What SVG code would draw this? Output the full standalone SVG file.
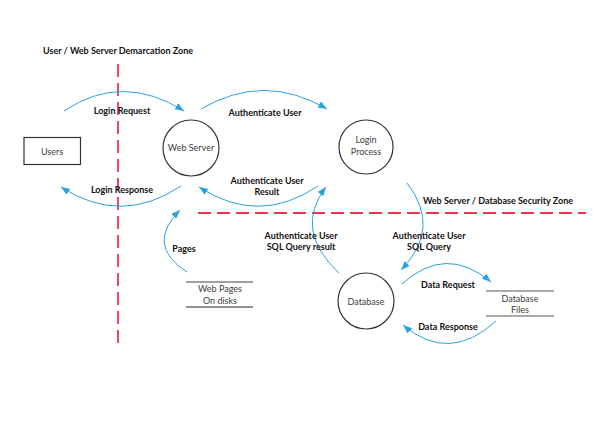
<svg xmlns="http://www.w3.org/2000/svg" width="595" height="426" viewBox="0 0 595 426">
<defs>
<marker id="ah" markerUnits="userSpaceOnUse" markerWidth="10" markerHeight="8" refX="9" refY="3.5" orient="auto">
<path d="M0,0 L9,3.5 L0,7 z" fill="#29a3e0"/>
</marker>
<style>
.lbl{font-family:Lato,"Liberation Sans",Arial,sans-serif;font-size:9px;font-weight:bold;fill:#111;text-anchor:middle}
.node{font-family:Lato,"Liberation Sans",Arial,sans-serif;font-size:9px;fill:#404040;text-anchor:middle}
.shape{fill:#fff;stroke:#333;stroke-width:1.2}
.flow{fill:none;stroke:#29a3e0;stroke-width:1;marker-end:url(#ah)}
.zone{stroke:#f0334f;stroke-width:1.8;stroke-dasharray:13 6;fill:none}
</style>
</defs>
<rect width="595" height="426" fill="#fff"/>
<g id="zones">
<line class="zone" x1="118" y1="64" x2="118" y2="343"/>
<line class="zone" x1="198" y1="213" x2="586" y2="213"/>
<text class="lbl" x="118" y="54">User / Web Server Demarcation Zone</text>
<text class="lbl" x="498" y="204">Web Server / Database Security Zone</text>
</g>
<g id="connectors">
<path class="flow" d="M64,111 Q122,72 184,111"/>
<path class="flow" d="M201,109 Q264,72 327,109"/>
<path class="flow" d="M318,186 Q259,226 199,187"/>
<path class="flow" d="M181,186 Q121,226 61,187"/>
<path class="flow" d="M187,272 Q145,245 180,210"/>
<path class="flow" d="M339,273 Q293,230 326,187"/>
<path class="flow" d="M407,183 Q442,228 401,270"/>
<path class="flow" d="M402,284 Q446,244 491,282"/>
<path class="flow" d="M496,321 Q449,364 403,325"/>
<text class="lbl" x="122" y="114">Login Request</text>
<text class="lbl" x="265" y="116">Authenticate User</text>
<text class="lbl" x="122" y="193">Login Response</text>
<text class="lbl" x="267" y="184">Authenticate User</text>
<text class="lbl" x="267" y="195">Result</text>
<text class="lbl" x="184" y="252">Pages</text>
<text class="lbl" x="301" y="239">Authenticate User</text>
<text class="lbl" x="301" y="250">SQL Query result</text>
<text class="lbl" x="429" y="239">Authenticate User</text>
<text class="lbl" x="429" y="250">SQL Query</text>
<text class="lbl" x="448" y="288">Data Request</text>
<text class="lbl" x="448" y="330">Data Response</text>
</g>
<g id="users">
<rect class="shape" x="24" y="137.5" width="56.5" height="27" stroke="#555"/>
<text class="node" x="52" y="154.5">Users</text>
</g>
<g id="webserver">
<circle class="shape" cx="191" cy="148" r="28"/>
<text class="node" x="191" y="151">Web Server</text>
</g>
<g id="loginprocess">
<circle class="shape" cx="366" cy="147" r="27"/>
<text class="node" x="366" y="143">Login</text>
<text class="node" x="366" y="155">Process</text>
</g>
<g id="database">
<circle class="shape" cx="366" cy="301" r="28"/>
<text class="node" x="366" y="305">Database</text>
</g>
<g id="webpages">
<line x1="186" y1="282" x2="253" y2="282" stroke="#808080" stroke-width="1.3"/>
<line x1="186" y1="307" x2="253" y2="307" stroke="#222" stroke-width="1.2"/>
<text class="node" x="220" y="292">Web Pages</text>
<text class="node" x="220" y="304">On disks</text>
</g>
<g id="dbfiles">
<line x1="486" y1="291" x2="554" y2="291" stroke="#555" stroke-width="1.2"/>
<line x1="486" y1="316" x2="554" y2="316" stroke="#555" stroke-width="1.2"/>
<text class="node" x="520" y="302">Database</text>
<text class="node" x="520" y="313">Files</text>
</g>
</svg>
